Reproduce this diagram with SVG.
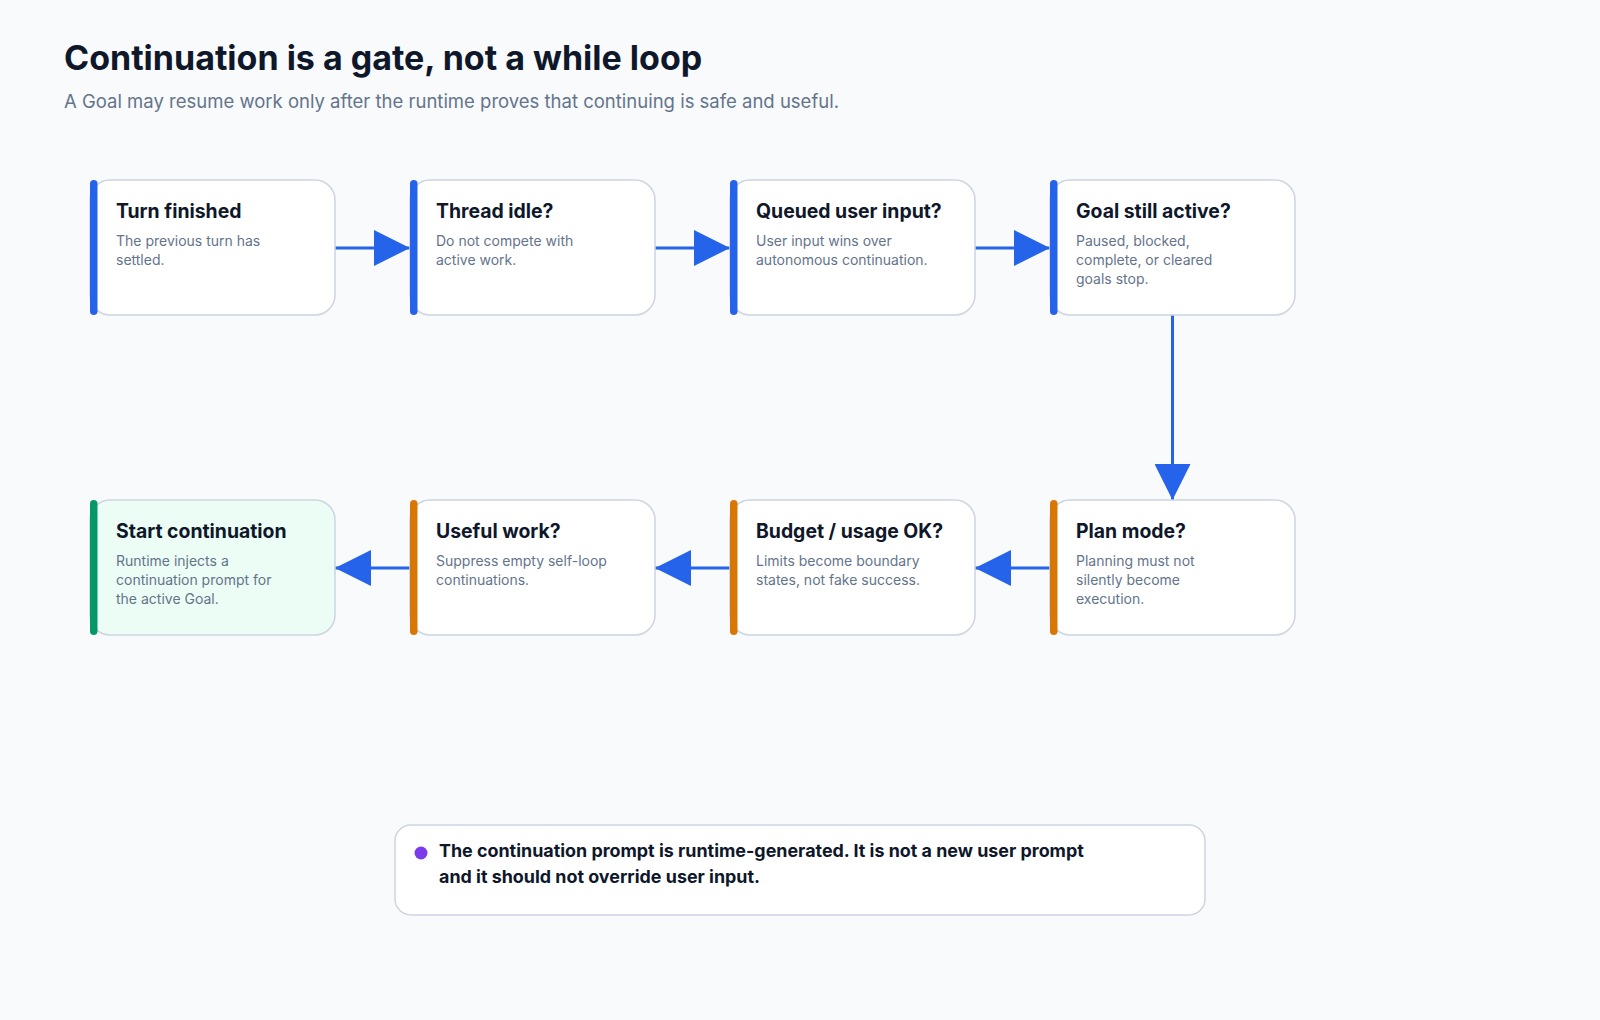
<svg xmlns="http://www.w3.org/2000/svg" width="1600" height="1020" viewBox="0 0 1600 1020">
<style>
  .title{font-family:Inter,"Liberation Sans",sans-serif;font-weight:700;font-size:34px;fill:#0f172a}
  .sub{font-family:Inter,"Liberation Sans",sans-serif;font-size:18.5px;fill:#64748b}
  .box{fill:#ffffff;stroke:#cbd5e1;stroke-width:1.5}
  .box.green{fill:#ecfdf5}
  .nt{font-family:Inter,"Liberation Sans",sans-serif;font-weight:700;font-size:19.4px;fill:#0f172a}
  .nd{font-family:Inter,"Liberation Sans",sans-serif;font-size:14px;fill:#64748b}
  .bar-blue{fill:#2563eb}
  .bar-orange{fill:#d97706}
  .bar-green{fill:#059669}
  .conn{stroke:#2563eb;stroke-width:3;fill:none;marker-end:url(#arrow)}
  .note{fill:#ffffff;stroke:#cbd5e1;stroke-width:1.5}
  .nt2{font-family:Inter,"Liberation Sans",sans-serif;font-weight:700;font-size:17.9px;fill:#0f172a}
</style>
<defs>
  <marker id="arrow" markerUnits="userSpaceOnUse" markerWidth="36" markerHeight="36" refX="36" refY="18" orient="auto">
    <path d="M0,0 L36,18 L0,36 Z" fill="#2563eb"/>
  </marker>
</defs>
<rect width="1600" height="1020" fill="#f8fafc"/>
<text class="title" x="64" y="70">Continuation is a gate, not a while loop</text>
<text class="sub" x="64" y="108">A Goal may resume work only after the runtime proves that continuing is safe and useful.</text>

<g id="connectors">
  <line class="conn" x1="335" y1="248" x2="410" y2="248"/>
  <line class="conn" x1="655" y1="248" x2="730" y2="248"/>
  <line class="conn" x1="975" y1="248" x2="1050" y2="248"/>
  <line class="conn" x1="1172.5" y1="315" x2="1172.5" y2="500"/>
  <line class="conn" x1="1050" y1="568" x2="975" y2="568"/>
  <line class="conn" x1="730" y1="568" x2="655" y2="568"/>
  <line class="conn" x1="410" y1="568" x2="335" y2="568"/>
</g>

<g id="node-turn-finished">
  <rect class="box" x="90" y="180" width="245" height="135" rx="20"/>
  <rect class="bar-blue" x="90" y="180" width="7.5" height="135" rx="3.75"/>
  <text class="nt" x="116" y="218">Turn finished</text>
  <text class="nd" x="116" y="246">The previous turn has</text>
  <text class="nd" x="116" y="265">settled.</text>
</g>
<g id="node-thread-idle">
  <rect class="box" x="410" y="180" width="245" height="135" rx="20"/>
  <rect class="bar-blue" x="410" y="180" width="7.5" height="135" rx="3.75"/>
  <text class="nt" x="436" y="218">Thread idle?</text>
  <text class="nd" x="436" y="246">Do not compete with</text>
  <text class="nd" x="436" y="265">active work.</text>
</g>
<g id="node-queued-input">
  <rect class="box" x="730" y="180" width="245" height="135" rx="20"/>
  <rect class="bar-blue" x="730" y="180" width="7.5" height="135" rx="3.75"/>
  <text class="nt" x="756" y="218">Queued user input?</text>
  <text class="nd" x="756" y="246">User input wins over</text>
  <text class="nd" x="756" y="265">autonomous continuation.</text>
</g>
<g id="node-goal-active">
  <rect class="box" x="1050" y="180" width="245" height="135" rx="20"/>
  <rect class="bar-blue" x="1050" y="180" width="7.5" height="135" rx="3.75"/>
  <text class="nt" x="1076" y="218">Goal still active?</text>
  <text class="nd" x="1076" y="246">Paused, blocked,</text>
  <text class="nd" x="1076" y="265">complete, or cleared</text>
  <text class="nd" x="1076" y="284">goals stop.</text>
</g>
<g id="node-plan-mode">
  <rect class="box" x="1050" y="500" width="245" height="135" rx="20"/>
  <rect class="bar-orange" x="1050" y="500" width="7.5" height="135" rx="3.75"/>
  <text class="nt" x="1076" y="538">Plan mode?</text>
  <text class="nd" x="1076" y="566">Planning must not</text>
  <text class="nd" x="1076" y="585">silently become</text>
  <text class="nd" x="1076" y="604">execution.</text>
</g>
<g id="node-budget">
  <rect class="box" x="730" y="500" width="245" height="135" rx="20"/>
  <rect class="bar-orange" x="730" y="500" width="7.5" height="135" rx="3.75"/>
  <text class="nt" x="756" y="538">Budget / usage OK?</text>
  <text class="nd" x="756" y="566">Limits become boundary</text>
  <text class="nd" x="756" y="585">states, not fake success.</text>
</g>
<g id="node-useful-work">
  <rect class="box" x="410" y="500" width="245" height="135" rx="20"/>
  <rect class="bar-orange" x="410" y="500" width="7.5" height="135" rx="3.75"/>
  <text class="nt" x="436" y="538">Useful work?</text>
  <text class="nd" x="436" y="566">Suppress empty self-loop</text>
  <text class="nd" x="436" y="585">continuations.</text>
</g>
<g id="node-start-continuation">
  <rect class="box green" x="90" y="500" width="245" height="135" rx="20"/>
  <rect class="bar-green" x="90" y="500" width="7.5" height="135" rx="3.75"/>
  <text class="nt" x="116" y="538">Start continuation</text>
  <text class="nd" x="116" y="566">Runtime injects a</text>
  <text class="nd" x="116" y="585">continuation prompt for</text>
  <text class="nd" x="116" y="604">the active Goal.</text>
</g>

<g id="note">
  <rect class="note" x="395" y="825" width="810" height="90" rx="16"/>
  <circle cx="421" cy="853" r="6.5" fill="#7c3aed"/>
  <text class="nt2" x="439" y="857">The continuation prompt is runtime-generated. It is not a new user prompt</text>
  <text class="nt2" x="439" y="883">and it should not override user input.</text>
</g>
</svg>
